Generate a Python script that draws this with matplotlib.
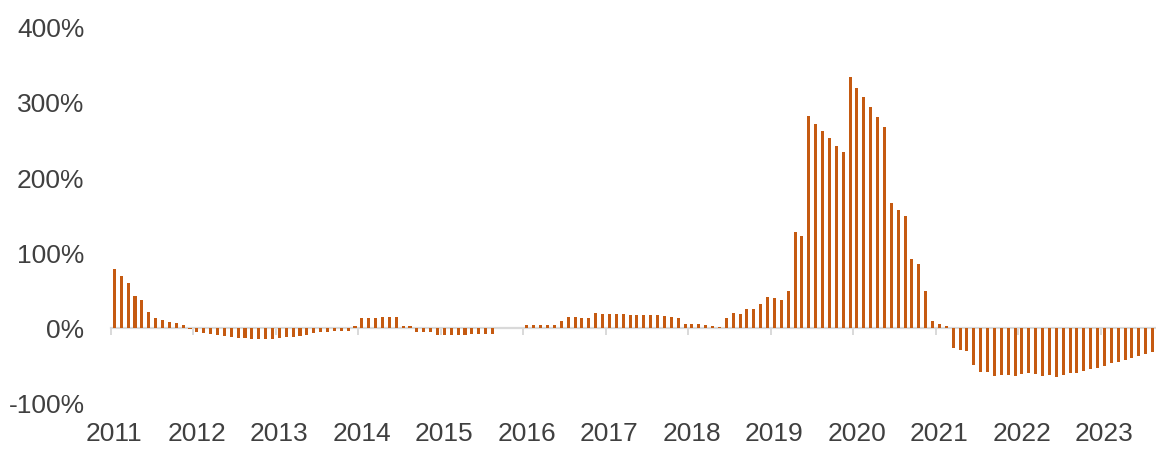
"""Monthly % change bar chart, Jan 2011 - Aug 2023."""
import numpy as np
import matplotlib
matplotlib.use("Agg")
import matplotlib.pyplot as plt
from matplotlib.ticker import FuncFormatter

# monthly values (%)
y2011 = [79, 70, 60, 43, 38, 21, 13, 10.6, 8.4, 6.2, 3.5, -1.5]
y2012 = [-5, -6.6, -8.4, -9.7, -10.6, -12.4, -13.3, -13.7, -14, -14.6, -14.6, -14]
y2013 = [-13.3, -12.4, -11.5, -10.6, -9.7, -7, -5.8, -4.9, -4, -3.5, -3.5, 2.2]
y2014 = [13.3, 14, 14, 15, 15, 15, 3, 3, -5.8, -5.8, -5, -8.8]
y2015 = [-8.8, -8.8, -8.8, -8.8, -8.4, -8.4, -8, -8, 0, 0, 0, 0]
y2016 = [4.4, 4.4, 4, 4, 3.5, 8.8, 15, 14.6, 13.3, 13.3, 19.5, 18.6]
y2017 = [18.6, 18.6, 18.6, 18, 17.7, 17.7, 17.3, 16.8, 15.8, 14.5, 13.5, 5.8]
y2018 = [5.3, 4.9, 4, 3.1, 1.8, 14, 20, 19, 26, 25, 32, 42]
y2019 = [40, 38, 49, 128, 123, 282, 272, 262, 253, 243, 234, 334]
y2020 = [320, 308, 294, 281, 268, 167, 158, 149, 92, 86, 50, 9]
y2021 = [5.5, 2.2, -27, -29, -31, -49, -59, -59, -64, -63, -63, -64]
y2022 = [-61.5, -60.6, -61.5, -64, -63, -65, -63, -60.6, -60, -57.5, -55, -52.7]
y2023 = [-50, -47, -44.7, -42, -40, -37.6, -34.5, -32]

years = list(range(2011, 2024))
values = np.array(y2011 + y2012 + y2013 + y2014 + y2015 + y2016 + y2017
                  + y2018 + y2019 + y2020 + y2021 + y2022 + y2023)
yticks = [-100, 0, 100, 200, 300, 400]

BAR = "#C55A11"
TEXT = "#404040"
AXIS = "#D9D9D9"

plt.rcParams["font.family"] = ["Liberation Sans", "DejaVu Sans"]

fig = plt.figure(figsize=(11.56, 4.5), dpi=100)
ax = fig.add_axes([0.096, 0.1044, 0.904, 0.8334])

x = np.arange(len(values))
ax.bar(x, values, width=0.45, color=BAR, zorder=2)

ax.set_xlim(-0.5, len(values) - 0.5)
ax.set_ylim(-100, 400)
ax.set_yticks(yticks)
ax.yaxis.set_major_formatter(FuncFormatter(lambda v, _: f"{v:.0f}%"))

# year boundaries carry the tick marks, January bars carry the labels
starts = np.array([(yr - years[0]) * 12 for yr in years])
ax.set_xticks(starts - 0.5)
ax.set_xticklabels([])
ax.set_xticks(starts, minor=True)
ax.set_xticklabels([str(yr) for yr in years], minor=True)

for side in ["top", "right", "left"]:
    ax.spines[side].set_visible(False)
ax.spines["bottom"].set_position(("data", 0))
ax.spines["bottom"].set_color(AXIS)
ax.spines["bottom"].set_linewidth(1.6)
ax.spines["bottom"].set_zorder(1)

ax.tick_params(axis="x", which="major", direction="out", length=5,
               width=1.4, color=AXIS)
ax.tick_params(axis="x", which="minor", length=0, pad=68,
               labelsize=19, labelcolor=TEXT)
ax.tick_params(axis="y", length=0, pad=19, labelsize=19, labelcolor=TEXT)

fig.savefig("out.png", dpi=100)
